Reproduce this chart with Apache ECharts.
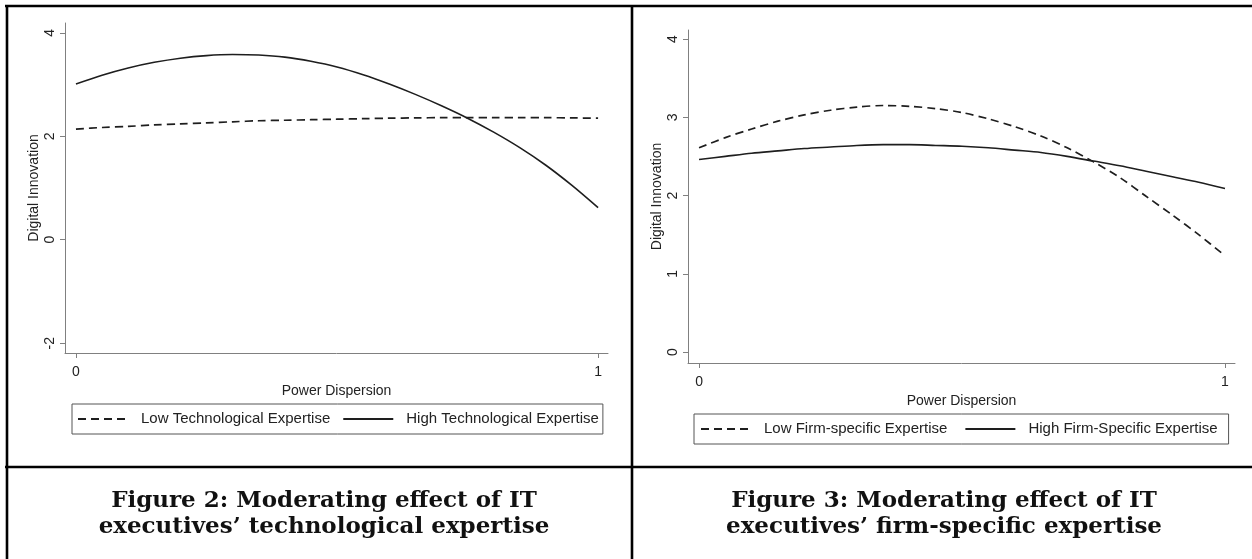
<!DOCTYPE html>
<html>
<head>
<meta charset="utf-8">
<script src="https://cdn.jsdelivr.net/npm/echarts@6/dist/echarts.min.js"></script>
<style>
html,body{margin:0;padding:0;background:#fff;}
#c{width:1252px;height:559px;}
</style>
</head>
<body>
<div id="c"></div>
<script>
// Power Dispersion sample points (x)
const xVals = [0, 0.05, 0.1, 0.15, 0.2, 0.25, 0.3, 0.35, 0.4, 0.45, 0.5,
               0.55, 0.6, 0.65, 0.7, 0.75, 0.8, 0.85, 0.9, 0.95, 1.0];
// Figure 2: technological expertise
const fig2Low  = [2.14, 2.17, 2.19, 2.22, 2.24, 2.26, 2.28, 2.30, 2.31, 2.32, 2.33,
                  2.34, 2.35, 2.355, 2.36, 2.36, 2.36, 2.36, 2.36, 2.355, 2.35];
const fig2High = [3.01, 3.18, 3.32, 3.43, 3.51, 3.56, 3.58, 3.57, 3.53, 3.45, 3.34,
                  3.19, 3.01, 2.81, 2.59, 2.35, 2.08, 1.78, 1.44, 1.05, 0.62];
// Figure 3: firm-specific expertise
const fig3Low  = [2.61, 2.74, 2.85, 2.95, 3.03, 3.09, 3.13, 3.15, 3.14, 3.11, 3.06,
                  2.98, 2.88, 2.76, 2.61, 2.43, 2.23, 1.99, 1.75, 1.50, 1.23];
const fig3High = [2.46, 2.50, 2.54, 2.57, 2.60, 2.62, 2.64, 2.65, 2.65, 2.64, 2.63,
                  2.61, 2.58, 2.55, 2.50, 2.44, 2.38, 2.31, 2.24, 2.17, 2.09];
// tick labels
const xTicks = [0, 1];
const fig2YTicks = [-2, 0, 2, 4];
const fig3YTicks = [0, 1, 2, 3, 4];
const names2 = ['Low Technological Expertise', 'High Technological Expertise'];
const names3 = ['Low Firm-specific Expertise', 'High Firm-Specific Expertise'];
const caption2 = 'Figure 2: Moderating effect of IT\nexecutives\u2019 technological expertise';
const caption3 = 'Figure 3: Moderating effect of IT\nexecutives\u2019 firm-specific expertise';

const pts = arr => xVals.map((x, i) => [x, arr[i]]);
const sans = 'Liberation Sans, Arial, sans-serif';
const axisCol = '#808080';
const lineCol = '#1e1e1e';

function xAxis(gi) {
  return {
    type: 'value', gridIndex: gi, min: -0.021, max: 1.019,
    name: 'Power Dispersion', nameLocation: 'middle', nameGap: 27,
    nameTextStyle: {fontFamily: sans, fontSize: 14, color: '#222'},
    axisLine: {show: true, onZero: false, lineStyle: {color: axisCol, width: 1}},
    axisTick: {show: true, length: 5, lineStyle: {color: axisCol}, customValues: xTicks},
    axisLabel: {fontFamily: sans, fontSize: 14, color: '#222', margin: 12, customValues: xTicks},
    splitLine: {show: false}
  };
}
function yAxis(gi, min, max, ticks) {
  return {
    type: 'value', gridIndex: gi, min: min, max: max,
    name: 'Digital Innovation', nameLocation: 'middle', nameGap: 24, nameRotate: 90,
    nameTextStyle: {fontFamily: sans, fontSize: 14, color: '#222'},
    axisLine: {show: true, onZero: false, lineStyle: {color: axisCol, width: 1}},
    axisTick: {show: true, length: 5, lineStyle: {color: axisCol}, customValues: ticks},
    axisLabel: {fontFamily: sans, fontSize: 14, color: '#222', rotate: 90, margin: 8, customValues: ticks},
    splitLine: {show: false}
  };
}
function series(name, arr, gi, dashed) {
  return {
    type: 'line', name: name, xAxisIndex: gi, yAxisIndex: gi,
    data: pts(arr), smooth: 0.3, symbol: 'none', silent: true,
    lineStyle: {color: lineCol, width: dashed ? 1.7 : 1.6, type: dashed ? [8, 5] : 'solid'},
    itemStyle: {color: lineCol}
  };
}
function legend(names, left, top, gap, pad) {
  return {
    data: names, left: left, top: top, orient: 'horizontal',
    itemWidth: 50, itemHeight: 12, itemGap: gap,
    padding: pad,
    borderColor: '#555', borderWidth: 1,
    itemStyle: {opacity: 0},
    textStyle: {fontFamily: sans, fontSize: 15, color: '#222', padding: [0, 0, 0, 8], lineHeight: 16}
  };
}
function caption(text, cx) {
  return {
    text: text, left: cx, top: 483, textAlign: 'center',
    textStyle: {fontFamily: 'DejaVu Serif, Georgia, serif', fontWeight: 'bold', fontSize: 23, lineHeight: 26, color: '#111'}
  };
}

const chart = echarts.init(document.getElementById('c'), null, {renderer: 'canvas'});
chart.setOption({
  animation: false,
  backgroundColor: '#fff',
  title: [caption(caption2, 319), caption(caption3, 939)],
  grid: [
    {left: 65, right: 644, top: 23, bottom: 206},
    {left: 688, right: 17, top: 30, bottom: 196}
  ],
  xAxis: [xAxis(0), xAxis(1)],
  yAxis: [yAxis(0, -2.19, 4.19, fig2YTicks), yAxis(1, -0.14, 4.115, fig3YTicks)],
  legend: [legend(names2, 72, 404, 12, [7, 4, 7, 5]), legend(names3, 694, 414, 17, [7, 11, 7, 6])],
  series: [
    series(names2[0], fig2Low, 0, true),
    series(names2[1], fig2High, 0, false),
    series(names3[0], fig3Low, 1, true),
    series(names3[1], fig3High, 1, false)
  ],
  graphic: [
    {type: 'line', shape: {x1: 5, y1: 6, x2: 1252, y2: 6}, style: {stroke: '#000', lineWidth: 2.6}, silent: true},
    {type: 'line', shape: {x1: 7, y1: 5, x2: 7, y2: 559}, style: {stroke: '#000', lineWidth: 2.6}, silent: true},
    {type: 'line', shape: {x1: 632, y1: 5, x2: 632, y2: 559}, style: {stroke: '#000', lineWidth: 2.6}, silent: true},
    {type: 'line', shape: {x1: 5, y1: 467, x2: 1252, y2: 467}, style: {stroke: '#000', lineWidth: 2.6}, silent: true}
  ]
});
</script>
</body>
</html>
